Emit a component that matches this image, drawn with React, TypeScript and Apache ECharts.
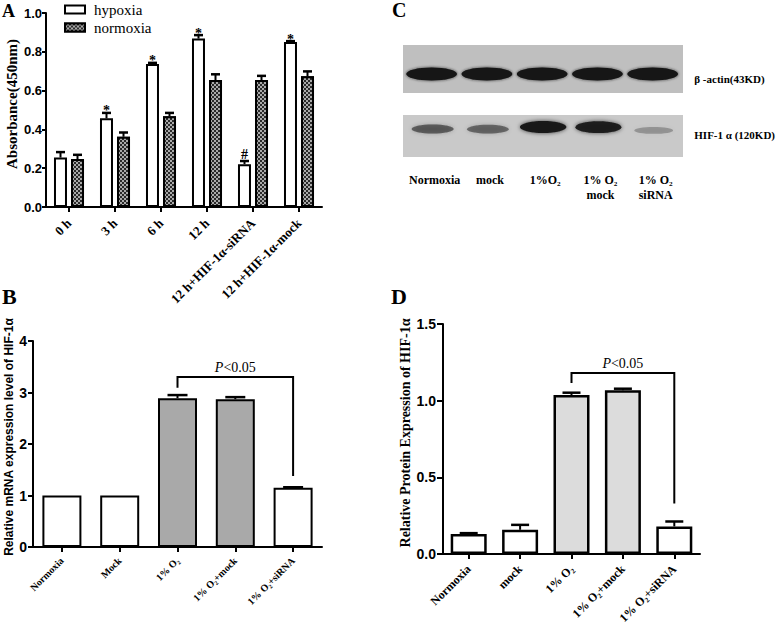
import React, { useEffect, useRef } from "react";
import * as echarts from "echarts";

// ---------- Panel A data ----------
const timeCategories = ["0 h", "3 h", "6 h", "12 h", "12 h+HIF-1α-siRNA", "12 h+HIF-1α-mock"];
const hypoxiaValues = [0.255, 0.457, 0.737, 0.868, 0.221, 0.85];
const hypoxiaErrors = [0.028, 0.028, 0.006, 0.018, 0.016, 0.005];
const hypoxiaMarks = ["", "*", "*", "*", "#", "*"];
const normoxiaValues = [0.247, 0.362, 0.468, 0.654, 0.654, 0.674];
const normoxiaErrors = [0.022, 0.022, 0.017, 0.03, 0.022, 0.025];

// ---------- Panel B data ----------
const mrnaCategories = ["Normoxia", "Mock", "1% O₂", "1% O₂+mock", "1% O₂+siRNA"];
const mrnaValues = [1.0, 1.0, 2.89, 2.87, 1.15];
const mrnaErrors = [0, 0, 0.06, 0.04, 0.01];
const mrnaHypoxic = [false, false, true, true, false];
const mrnaBracket = [2, 4, 3.3, 3.09, 1.38];

// ---------- Panel C data ----------
const blotLanes = ["Normoxia", "mock", "1%O₂", "1% O₂\nmock", "1% O₂\nsiRNA"];
const blotRows = ["HIF-1 α (120KD)", "β -actin(43KD)"];
const actinIntensity = [1, 1, 1, 1, 1];
const hifIntensity = [0.5, 0.45, 1, 0.95, 0.15];

// ---------- Panel D data ----------
const proteinCategories = ["Normoxia", "mock", "1% O₂", "1% O₂+mock", "1% O₂+siRNA"];
const proteinValues = [0.13, 0.158, 1.037, 1.068, 0.18];
const proteinErrors = [0.006, 0.032, 0.015, 0.01, 0.032];
const proteinHypoxic = [false, false, true, true, false];
const proteinBracket = [2, 4, 1.18, 1.115, 0.33];

const SERIF = "'Liberation Serif', 'Times New Roman', serif";
const SANS = "'Liberation Sans', Arial, sans-serif";

function errorBarRenderer(offset: number, capHalf: number, marks?: string[]) {
  return (params: any, api: any) => {
    const idx = api.value(0);
    const v = api.value(1);
    const e = api.value(2);
    const base = api.coord([idx, v]);
    const top = api.coord([idx, v + e]);
    const x = base[0] + offset;
    const children: any[] = [];
    if (e > 0) {
      children.push({
        type: "line",
        shape: { x1: x, y1: base[1], x2: x, y2: top[1] },
        style: { stroke: "#000", lineWidth: 2 },
      });
      children.push({
        type: "line",
        shape: { x1: x - capHalf, y1: top[1], x2: x + capHalf, y2: top[1] },
        style: { stroke: "#000", lineWidth: 2.5 },
      });
    }
    const mark = marks ? marks[params.dataIndex] : "";
    if (mark) {
      children.push({
        type: "text",
        x,
        y: top[1] + (mark === "*" ? 5 : 0),
        style: {
          text: mark,
          align: "center",
          verticalAlign: "bottom",
          fontSize: 14,
          fontFamily: SERIF,
          fontWeight: "bold",
          fill: "#000",
        },
      });
    }
    return { type: "group", children };
  };
}

function bracketRenderer(params: any, api: any) {
  const a = api.value(0);
  const b = api.value(1);
  const yTop = api.value(2);
  const yA = api.value(3);
  const yB = api.value(4);
  const p0 = api.coord([a, yA]);
  const p1 = api.coord([a, yTop]);
  const p2 = api.coord([b, yTop]);
  const p3 = api.coord([b, yB]);
  return {
    type: "group",
    children: [
      {
        type: "polyline",
        shape: { points: [p0, p1, p2, p3] },
        style: { stroke: "#000", lineWidth: 2, fill: null },
      },
      {
        type: "text",
        x: (p1[0] + p2[0]) / 2,
        y: p1[1] - 3,
        style: {
          text: "{i|P}<0.05",
          align: "center",
          verticalAlign: "bottom",
          fontSize: 14,
          fontFamily: SERIF,
          fill: "#000",
          rich: { i: { fontStyle: "italic", fontSize: 14, fontFamily: SERIF } },
        },
      },
    ],
  };
}

function blotRenderer(params: any, api: any) {
  const lane = api.value(0);
  const row = api.value(1);
  const inten = api.value(2);
  const c = api.coord([lane, row]);
  const w = api.size([1, 0])[0];
  if (row === 1) {
    return {
      type: "ellipse",
      shape: { cx: c[0] - 3, cy: c[1] + 1, rx: w * 0.46, ry: 6.5 },
      style: { fill: "#141414", shadowBlur: 3, shadowColor: "rgba(20,20,20,0.8)" },
    };
  }
  return {
    type: "ellipse",
    shape: { cx: c[0] - 2, cy: c[1] + 2 - 4 * inten, rx: w * (0.34 + 0.08 * inten), ry: 3 + 3 * inten },
    style: {
      fill: `rgba(20,20,20,${0.12 + 0.85 * inten})`,
      shadowBlur: 4,
      shadowColor: `rgba(20,20,20,${0.1 + 0.6 * inten})`,
    },
  };
}

const axisLineStyle = { show: true, lineStyle: { color: "#000", width: 2 } };

export default function App() {
  const ref = useRef<HTMLDivElement>(null);

  useEffect(() => {
    if (!ref.current) return;
    const chart = echarts.init(ref.current, null, { renderer: "svg" });

    const option: any = {
      animation: false,
      backgroundColor: "#fff",
      textStyle: { fontFamily: SERIF, color: "#000" },
      legend: {
        data: ["hypoxia", "normoxia"],
        left: 64,
        top: 2,
        padding: 0,
        orient: "vertical",
        icon: "rect",
        itemWidth: 20,
        itemHeight: 8,
        itemGap: 3,
        selectedMode: false,
        textStyle: { fontFamily: SERIF, fontSize: 15, color: "#000", padding: [0, 0, 0, 4] },
      },
      grid: [
        { left: 46, top: 13, width: 276, height: 194 },
        { left: 33, top: 341, width: 289, height: 206 },
        { left: 443, top: 324, width: 257, height: 230 },
        { left: 407, top: 45, width: 277, height: 112 },
      ],
      xAxis: [
        {
          type: "category",
          gridIndex: 0,
          data: timeCategories,
          axisLine: axisLineStyle,
          axisTick: { show: true, alignWithLabel: true, length: 5, lineStyle: { width: 2, color: "#000" } },
          axisLabel: {
            interval: 0,
            rotate: 45,
            margin: 14,
            fontFamily: SERIF,
            fontWeight: "bold",
            fontSize: 13,
            color: "#000",
          },
        },
        {
          type: "category",
          gridIndex: 1,
          data: mrnaCategories,
          axisLine: axisLineStyle,
          axisTick: { show: true, alignWithLabel: true, length: 5, lineStyle: { width: 2, color: "#000" } },
          axisLabel: {
            interval: 0,
            rotate: 45,
            margin: 12,
            fontFamily: SERIF,
            fontWeight: "bold",
            fontSize: 10,
            color: "#000",
          },
        },
        {
          type: "category",
          gridIndex: 2,
          data: proteinCategories,
          axisLine: axisLineStyle,
          axisTick: { show: true, alignWithLabel: true, length: 5, lineStyle: { width: 2, color: "#000" } },
          axisLabel: {
            interval: 0,
            rotate: 45,
            margin: 13,
            fontFamily: SERIF,
            fontWeight: "bold",
            fontSize: 12,
            color: "#000",
          },
        },
        {
          type: "category",
          gridIndex: 3,
          data: blotLanes,
          axisLine: { show: false },
          axisTick: { show: false },
          axisLabel: {
            interval: 0,
            margin: 15,
            fontFamily: SERIF,
            fontWeight: "bold",
            fontSize: 12,
            lineHeight: 15,
            color: "#000",
          },
        },
      ],
      yAxis: [
        {
          type: "value",
          gridIndex: 0,
          min: 0,
          max: 1,
          interval: 0.2,
          splitLine: { show: false },
          axisLine: axisLineStyle,
          axisTick: { show: true, length: 4, lineStyle: { width: 2, color: "#000" } },
          axisLabel: {
            margin: 4,
            fontFamily: SANS,
            fontWeight: "bold",
            fontSize: 13,
            color: "#000",
            formatter: (v: number) => v.toFixed(1),
          },
          name: "Absorbance(450nm)",
          nameLocation: "middle",
          nameGap: 27,
          nameTextStyle: {
            fontFamily: SERIF,
            fontWeight: "bold",
            fontSize: 15,
            color: "#000",
            padding: [0, 0, 0, 12],
          },
        },
        {
          type: "value",
          gridIndex: 1,
          min: 0,
          max: 4,
          interval: 1,
          splitLine: { show: false },
          axisLine: axisLineStyle,
          axisTick: { show: true, length: 5, lineStyle: { width: 2, color: "#000" } },
          axisLabel: { margin: 6, fontFamily: SANS, fontWeight: "bold", fontSize: 14, color: "#000" },
          name: "Relative mRNA expression level of HIF-1α",
          nameLocation: "middle",
          nameGap: 18,
          nameTextStyle: {
            fontFamily: SANS,
            fontWeight: "bold",
            fontSize: 12,
            color: "#000",
            padding: [0, 0, 0, 14],
          },
        },
        {
          type: "value",
          gridIndex: 2,
          min: 0,
          max: 1.5,
          interval: 0.5,
          splitLine: { show: false },
          axisLine: axisLineStyle,
          axisTick: { show: true, length: 6, lineStyle: { width: 2, color: "#000" } },
          axisLabel: {
            margin: 7,
            fontFamily: SANS,
            fontWeight: "bold",
            fontSize: 14,
            color: "#000",
            formatter: (v: number) => v.toFixed(1),
          },
          name: "Relative Protein Expression of HIF-1α",
          nameLocation: "middle",
          nameGap: 26,
          nameTextStyle: {
            fontFamily: SERIF,
            fontWeight: "bold",
            fontSize: 14,
            color: "#000",
            padding: [0, 0, 0, 12],
          },
        },
        {
          type: "category",
          gridIndex: 3,
          position: "right",
          data: blotRows,
          axisLine: { show: false },
          axisTick: { show: false },
          axisLabel: {
            margin: 11,
            verticalAlign: "top",
            fontFamily: SERIF,
            fontWeight: "bold",
            fontSize: 11,
            color: "#000",
          },
        },
      ],
      graphic: [
        { type: "rect", z: 0, shape: { x: 403, y: 45, width: 280, height: 48 }, style: { fill: "#bfbfbf" } },
        { type: "rect", z: 0, shape: { x: 403, y: 115, width: 280, height: 42 }, style: { fill: "#c9c9c9" } },
        { type: "text", x: 2, y: 2, style: { text: "A", fontSize: 18, fontWeight: "bold", fontFamily: SERIF, fill: "#000" } },
        { type: "text", x: 2, y: 285, style: { text: "B", fontSize: 22, fontWeight: "bold", fontFamily: SERIF, fill: "#000" } },
        { type: "text", x: 392, y: 0, style: { text: "C", fontSize: 20, fontWeight: "bold", fontFamily: SERIF, fill: "#000" } },
        { type: "text", x: 391, y: 285, style: { text: "D", fontSize: 22, fontWeight: "bold", fontFamily: SERIF, fill: "#000" } },
      ],
      series: [
        {
          name: "hypoxia",
          type: "bar",
          xAxisIndex: 0,
          yAxisIndex: 0,
          data: hypoxiaValues,
          barWidth: 13,
          barGap: "31%",
          itemStyle: { color: "#fff", borderColor: "#000", borderWidth: 2 },
        },
        {
          name: "normoxia",
          type: "bar",
          xAxisIndex: 0,
          yAxisIndex: 0,
          data: normoxiaValues,
          barWidth: 13,
          barGap: "31%",
          itemStyle: {
            color: "#2a2a2a",
            borderColor: "#000",
            borderWidth: 2,
            decal: {
              symbol: "rect",
              symbolSize: 0.9,
              dashArrayX: [[2, 2], [0, 2, 2, 0]],
              dashArrayY: [2, 0],
              color: "#b8b8b8",
            },
          },
        },
        {
          type: "custom",
          xAxisIndex: 0,
          yAxisIndex: 0,
          z: 10,
          silent: true,
          renderItem: errorBarRenderer(-8.5, 4.5, hypoxiaMarks),
          encode: { x: 0, y: 1 },
          data: hypoxiaValues.map((v, i) => [i, v, hypoxiaErrors[i]]),
        },
        {
          type: "custom",
          xAxisIndex: 0,
          yAxisIndex: 0,
          z: 10,
          silent: true,
          renderItem: errorBarRenderer(8.5, 4.5),
          encode: { x: 0, y: 1 },
          data: normoxiaValues.map((v, i) => [i, v, normoxiaErrors[i]]),
        },
        {
          name: "mRNA",
          type: "bar",
          xAxisIndex: 1,
          yAxisIndex: 1,
          barWidth: 39,
          data: mrnaValues.map((v, i) => ({
            value: v,
            itemStyle: { color: mrnaHypoxic[i] ? "#a9a9a9" : "#fff" },
          })),
          itemStyle: { borderColor: "#000", borderWidth: 2 },
        },
        {
          type: "custom",
          xAxisIndex: 1,
          yAxisIndex: 1,
          z: 10,
          silent: true,
          renderItem: errorBarRenderer(0, 10),
          encode: { x: 0, y: 1 },
          data: mrnaValues.map((v, i) => [i, v, mrnaErrors[i]]),
        },
        {
          type: "custom",
          xAxisIndex: 1,
          yAxisIndex: 1,
          z: 10,
          silent: true,
          renderItem: bracketRenderer,
          encode: { x: 0, y: 2 },
          data: [mrnaBracket],
        },
        {
          name: "protein",
          type: "bar",
          xAxisIndex: 2,
          yAxisIndex: 2,
          barWidth: 36,
          data: proteinValues.map((v, i) => ({
            value: v,
            itemStyle: { color: proteinHypoxic[i] ? "#dcdcdc" : "#fff" },
          })),
          itemStyle: { borderColor: "#000", borderWidth: 2.5 },
        },
        {
          type: "custom",
          xAxisIndex: 2,
          yAxisIndex: 2,
          z: 10,
          silent: true,
          renderItem: errorBarRenderer(0, 9),
          encode: { x: 0, y: 1 },
          data: proteinValues.map((v, i) => [i, v, proteinErrors[i]]),
        },
        {
          type: "custom",
          xAxisIndex: 2,
          yAxisIndex: 2,
          z: 10,
          silent: true,
          renderItem: bracketRenderer,
          encode: { x: 0, y: 2 },
          data: [proteinBracket],
        },
        {
          type: "custom",
          xAxisIndex: 3,
          yAxisIndex: 3,
          z: 5,
          silent: true,
          renderItem: blotRenderer,
          encode: { x: 0, y: 1 },
          data: [
            ...actinIntensity.map((v, i) => [i, 1, v]),
            ...hifIntensity.map((v, i) => [i, 0, v]),
          ],
        },
      ],
    };

    chart.setOption(option);
    return () => chart.dispose();
  }, []);

  return (
    <div
      ref={ref}
      style={{ position: "absolute", left: 0, top: 0, width: 778, height: 632, background: "#fff" }}
    />
  );
}
